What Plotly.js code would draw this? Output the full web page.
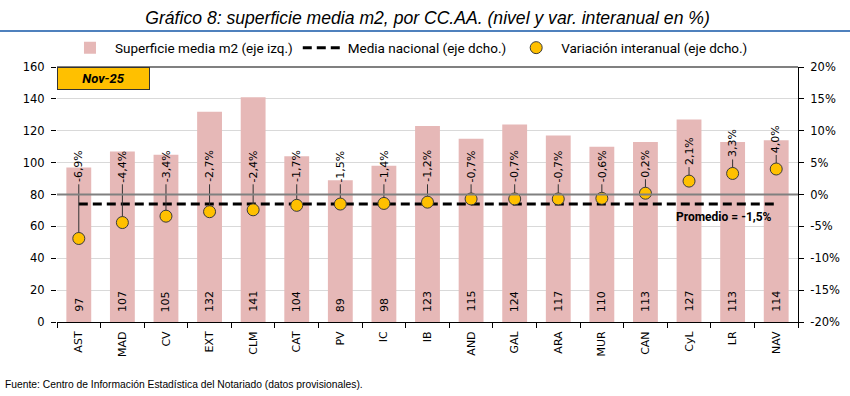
<!DOCTYPE html>
<html>
<head>
<meta charset="utf-8">
<script src="https://cdn.plot.ly/plotly-3.0.1.min.js"></script>
<style>html,body{margin:0;padding:0;background:#fff}#chart{width:850px;height:396px}</style>
</head>
<body>
<div id="chart"></div>
<script>
const categories = ['AST','MAD','CV','EXT','CLM','CAT','PV','IC','IB','AND','GAL','ARA','MUR','CAN','CyL','LR','NAV'];
const surface = [97,107,105,132,141,104,89,98,123,115,124,117,110,113,127,113,114];
const yoy = [-6.9,-4.4,-3.4,-2.7,-2.4,-1.7,-1.5,-1.4,-1.2,-0.7,-0.7,-0.7,-0.6,0.2,2.1,3.3,4.0];
const nationalAvg = -1.5;
const leftTicks = [0,20,40,60,80,100,120,140,160];
const rightTicks = [-20,-15,-10,-5,0,5,10,15,20];
const periodLabel = 'Nov-25';

const F = '"DejaVu Sans",Verdana,sans-serif';
const pct = v => v.toFixed(1).replace('.', ',') + '%';
const labelBase = v => v < 0 ? 1.6 : v + 2.2;

// leader lines from each point up to its label
const leadX = [], leadY = [];
categories.forEach((c,i)=>{ leadX.push(c, c, null); leadY.push(yoy[i], labelBase(yoy[i]), null); });

const traces = [
  {type:'bar', x:categories, y:surface, name:'Superficie media m2 (eje izq.)',
   marker:{color:'#E6B8B7'}, hoverinfo:'skip'},
  {type:'scatter', mode:'lines', x:categories, y:categories.map(()=>nationalAvg), yaxis:'y2',
   name:'Media nacional (eje dcho.)', line:{color:'#000', width:3, dash:'9px,5px'}, hoverinfo:'skip'},
  {type:'scatter', mode:'lines', x:leadX, y:leadY, yaxis:'y2', showlegend:false,
   line:{color:'#333', width:1}, hoverinfo:'skip'},
  {type:'scatter', mode:'markers', x:categories, y:yoy, yaxis:'y2',
   name:'Variación interanual (eje dcho.)',
   marker:{color:'#FFC000', size:12, line:{color:'#3a3a3a', width:1}}, hoverinfo:'skip'}
];

const annotations = [];
categories.forEach((c,i)=>{
  const v = yoy[i];
  annotations.push({x:c, y:labelBase(v), xref:'x', yref:'y2', text:pct(v), textangle:-90,
    showarrow:false, yanchor:'bottom', xanchor:'center', font:{family:F, size:11, color:'#000'}});
  annotations.push({x:c, y:0, xref:'x', yref:'y', text:String(surface[i]), textangle:-90,
    showarrow:false, yanchor:'bottom', yshift:8, font:{family:F, size:11, color:'#000'}});
});
annotations.push({x:categories[categories.length-1], y:nationalAvg-2, xref:'x', yref:'y2',
  xanchor:'right', yanchor:'middle', xshift:-2, showarrow:false,
  text:'<b>Promedio = ' + pct(nationalAvg) + '</b>', font:{family:'Roboto,sans-serif', size:12, color:'#000'}});
annotations.push({x:0, y:1, xref:'paper', yref:'paper', xanchor:'left', yanchor:'top',
  showarrow:false, text:'<b><i>'+periodLabel+'</i></b>', width:91, height:21, borderpad:0,
  bgcolor:'#FFC000', bordercolor:'#333', borderwidth:1, font:{family:'Roboto,sans-serif', size:13, color:'#000'}});
annotations.push({x:-0.0729, y:-0.247, xref:'paper', yref:'paper', xanchor:'left', yanchor:'middle',
  showarrow:false, text:'Fuente: Centro de Información Estadística del Notariado (datos provisionales).',
  font:{family:'"Liberation Sans",Arial,sans-serif', size:10.3, color:'#000'}});

const layout = {
  width:850, height:396,
  margin:{l:57, r:52, t:67, b:74},
  paper_bgcolor:'#fff', plot_bgcolor:'#fff',
  title:{text:'Gráfico 8: superficie media m2, por CC.AA. (nivel y var. interanual en %)',
    x:0.503, xanchor:'center', y:1-18/396, yanchor:'middle', yref:'container',
    font:{family:'"Liberation Sans",Arial,sans-serif', size:17.6, style:'italic', color:'#000'}},
  bargap:0.43,
  showlegend:true,
  legend:{orientation:'h', x:0.475, xanchor:'center', y:1.075, yanchor:'middle',
    font:{family:'Roboto,sans-serif', size:13.5, color:'#000'}, itemwidth:40, bgcolor:'rgba(0,0,0,0)'},
  xaxis:{type:'category', range:[-0.5, categories.length-0.5], tickson:'boundaries',
    ticks:'outside', ticklen:5, tickcolor:'#000', showline:true, linecolor:'#000', linewidth:1,
    tickangle:-90, ticklabelstandoff:4, tickfont:{family:F, size:11, color:'#000'}, showgrid:false, fixedrange:true},
  yaxis:{range:[0,160], tickvals:leftTicks, ticks:'outside', ticklen:5, tickcolor:'#000',
    showline:false, zeroline:false, gridcolor:'#D9D9D9', gridwidth:1, ticklabelstandoff:4,
    tickfont:{family:F, size:11.5, color:'#000'}, fixedrange:true},
  yaxis2:{overlaying:'y', side:'right', range:[-20,20], tickvals:rightTicks,
    ticktext:rightTicks.map(v=>v+'%'), showgrid:false, zeroline:false, showline:true,
    linecolor:'#000', ticks:'outside', ticklen:5, tickcolor:'#000', ticklabelstandoff:4,
    tickfont:{family:F, size:11.5, color:'#000'}, fixedrange:true},
  shapes:[
    {type:'line', xref:'paper', yref:'y2', x0:0, x1:1, y0:0, y1:0, line:{color:'#808080', width:2}, layer:'above'},
    {type:'line', xref:'paper', yref:'paper', x0:0, x1:1, y0:1, y1:1, line:{color:'#808080', width:2}, layer:'above'},
    {type:'line', xref:'paper', yref:'paper', x0:-0.077, x1:1.071, y0:1.141, y1:1.141, line:{color:'#4F81BD', width:2}}
  ],
  annotations:annotations
};

Plotly.newPlot('chart', traces, layout, {displayModeBar:false, staticPlot:true});
</script>
</body>
</html>
